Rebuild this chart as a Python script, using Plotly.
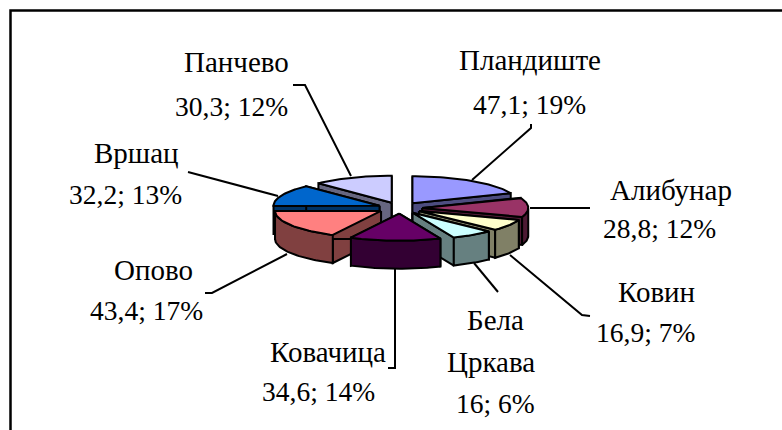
import math
import plotly.graph_objects as go

categories = ["Пландиште", "Алибунар", "Ковин", "Бела Цркава", "Ковачица", "Опово", "Вршац", "Панчево"]
values = [47.1, 28.8, 16.9, 16, 34.6, 43.4, 32.2, 30.3]
percents = [19, 12, 7, 6, 14, 17, 13, 12]
top_colors = ["#9999FF", "#993366", "#FFFFCC", "#CCFFFF", "#660066", "#FF8080", "#0066CC", "#CCCCFF"]
side_colors = ["#4D4D80", "#4D1A33", "#808066", "#668080", "#330033", "#804040", "#003366", "#666680"]
paint_order = [7, 0, 1, 2, 3, 6, 5, 4]

CX, CY, RX, RY, DEPTH, EXPLODE = 400, 208, 106, 27, 28, 0.21
INK = "black"

total = sum(values)
spans = []
acc = 0.0
for v in values:
    spans.append((acc / total * 2 * math.pi, (acc + v) / total * 2 * math.pi))
    acc += v

fig = go.Figure()


def poly(xs, ys, color):
    fig.add_trace(go.Scatter(x=xs, y=ys, mode="lines", fill="toself", fillcolor=color,
                             line=dict(color=INK, width=2), hoverinfo="skip", showlegend=False))


for i in paint_order:
    a0, a1 = spans[i]
    mid = (a0 + a1) / 2
    ax = CX + EXPLODE * RX * math.sin(mid)
    ay = CY - EXPLODE * RY * math.cos(mid)
    n = 40
    angs = [a0 + (a1 - a0) * k / n for k in range(n + 1)]
    px = [ax + RX * math.sin(a) for a in angs]
    py = [ay - RY * math.cos(a) for a in angs]
    # radial walls
    for j in (0, n):
        poly([ax, px[j], px[j], ax, ax], [ay, py[j], py[j] + DEPTH, ay + DEPTH, ay], side_colors[i])
    # outer wall, front-facing part only
    front = [k for k, a in enumerate(angs) if math.pi / 2 <= a <= 3 * math.pi / 2]
    if len(front) > 1:
        fx = [px[k] for k in front]
        fy = [py[k] for k in front]
        poly(fx + fx[::-1] + fx[:1], fy + [y + DEPTH for y in fy[::-1]] + fy[:1], side_colors[i])
    # top face
    poly([ax] + px + [ax], [ay] + py + [ay], top_colors[i])

# leader lines
leaders = [
    ([472, 531, 531], [180, 128, 124]),
    ([530, 590], [208, 208]),
    ([510, 582, 590], [255, 315, 316]),
    ([474, 498], [263, 292]),
    ([395, 395, 388], [268, 368, 368]),
    ([287, 212, 205], [254, 293, 293]),
    ([278, 188], [196, 172]),
    ([351, 305, 293], [176, 85, 85]),
]
for lx, ly in leaders:
    fig.add_trace(go.Scatter(x=lx, y=ly, mode="lines", line=dict(color=INK, width=2),
                             hoverinfo="skip", showlegend=False))


def fmt(v):
    return str(v).replace(".", ",")


# label lines: (slice index, [(x centre, y centre) per line])
label_pos = [
    (0, [(530, 60), (529, 104)]),
    (1, [(671, 190), (659, 228)]),
    (2, [(656, 292), (645, 332)]),
    (3, [(495, 320), (491, 362), (495, 403)]),
    (4, [(328, 352), (318, 391)]),
    (5, [(153, 270), (146, 310)]),
    (6, [(136, 153), (125, 194)]),
    (7, [(236, 62), (231, 106)]),
]
annotations = []
for i, spots in label_pos:
    name_lines = categories[i].split(" ")
    lines = name_lines + [f"{fmt(values[i])}; {percents[i]}%"]
    for k, (t, (x, y)) in enumerate(zip(lines, spots)):
        size = 29 if k < len(name_lines) else 27.5
        annotations.append(dict(x=x, y=y, xref="x", yref="y", text=t, showarrow=False,
                                xanchor="center", yanchor="middle",
                                font=dict(family="Liberation Serif", size=size, color="black")))

fig.update_layout(
    width=782, height=430, margin=dict(l=0, r=0, t=0, b=0), autosize=False,
    paper_bgcolor="white", plot_bgcolor="white", showlegend=False,
    xaxis=dict(range=[0, 782], visible=False, fixedrange=True),
    yaxis=dict(range=[430, 0], visible=False, fixedrange=True),
    annotations=annotations,
    shapes=[dict(type="rect", xref="x", yref="y", x0=10.5, y0=10.5, x1=800, y1=450,
                 line=dict(color="black", width=2.5), layer="below")],
)
fig.write_html("out.html", config={"displayModeBar": False},
               post_script="document.body.style.margin='0';document.body.style.overflow='hidden';")
